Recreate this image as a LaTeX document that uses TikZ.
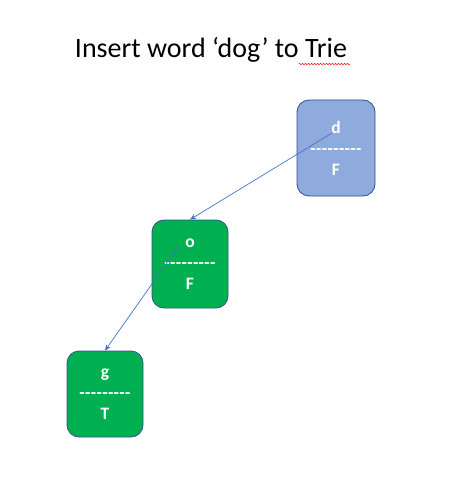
\documentclass[tikz,border=0pt]{standalone}
\usepackage{fontspec}
\usepackage{xcolor}
\usetikzlibrary{calc,arrows.meta,decorations.pathmorphing}
\setmainfont{Carlito}
\newfontfamily\boxfont{Carlito}[BoldFont=* Bold]
\newfontfamily\dashfont{Carlito Bold}[LetterSpace=2]
\definecolor{ppblue}{HTML}{8FAADC}
\definecolor{ppgreen}{HTML}{00B050}
\definecolor{ppedge}{HTML}{2F528F}
\definecolor{pparrow}{HTML}{4472C4}

\begin{document}
\begin{tikzpicture}[x=1pt, y=-1pt,
    trienode/.style={draw=ppedge, line width=0.8pt, rounded corners=12pt,
        text=white, align=center, font=\boxfont\bfseries\fontsize{17.5}{21}\selectfont},
    link/.style={draw=pparrow, line width=0.7pt, -{Stealth[length=6pt,width=5pt]}}]
\useasboundingbox (0,0) rectangle (450,489);
% titulo
\node (titulo) [anchor=base, font=\fontsize{28}{32}\selectfont] at (211,58)
    {Insert word `dog' to Trie};
\draw[red, line width=0.4pt, decorate,
    decoration={snake, amplitude=0.8pt, segment length=3pt}]
    ([xshift=-52pt,yshift=-6pt]titulo.base east) -- ([yshift=-6pt]titulo.base east);
% nodos del trie
\node (d) [trienode, fill=ppblue, minimum width=78pt, minimum height=96pt]
    at (336,148) {d\\{\dashfont---------}\\F};
\node (o) [trienode, fill=ppgreen, minimum width=76pt, minimum height=88pt]
    at (190,264) {o\\{\dashfont---------}\\F};
\node (g) [trienode, fill=ppgreen, minimum width=76pt, minimum height=86pt]
    at (105,394) {g\\{\dashfont---------}\\T};
% enlaces
\coordinate (dsal) at ($(d.center)+(-4,-15)$);
\coordinate (osal) at ($(o.center)+(-12,-17)$);
\draw[link] (dsal) -- (o.north);
\draw[link] (osal) -- (g.north);
\end{tikzpicture}
\end{document}
